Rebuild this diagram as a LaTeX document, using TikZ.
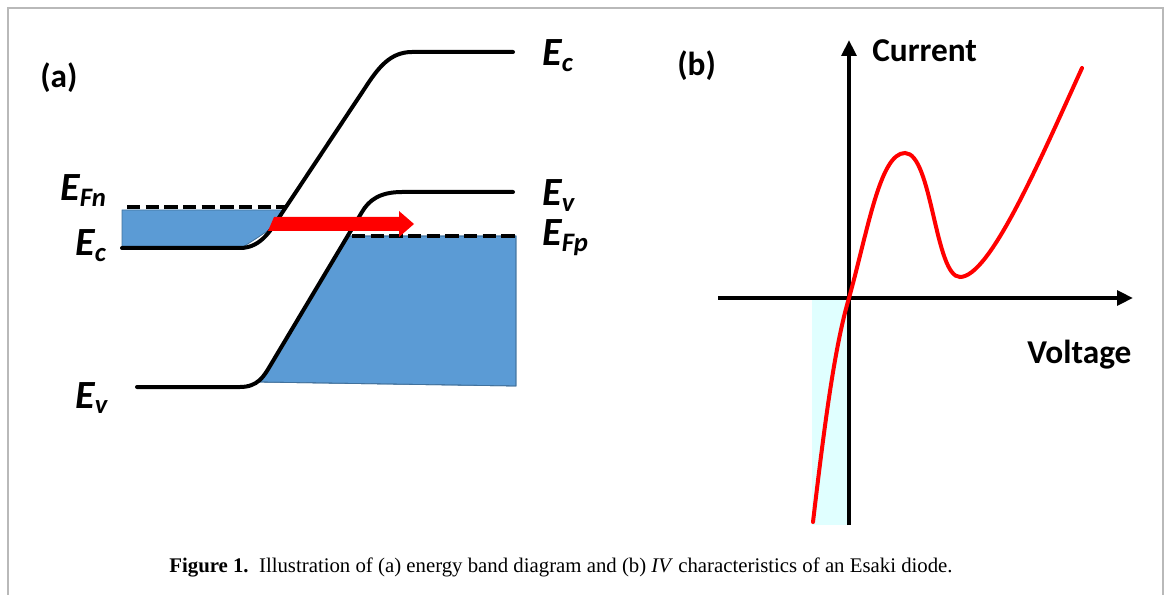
\documentclass[tikz,border=0pt]{standalone}
\usepackage{fontspec}
\setmainfont{Liberation Serif}
\newfontfamily\lblfont{Carlito}
\usetikzlibrary{arrows.meta, positioning}
\definecolor{fillblue}{HTML}{5B9BD5}
\definecolor{edgeblue}{HTML}{41719C}
\definecolor{paleCyan}{HTML}{E0FFFF}
\newcommand{\lvl}[2]{{\fontsize{30}{30}\selectfont E}\raisebox{-0.4em}{\fontsize{20}{20}\selectfont #2}}
\tikzset{
  band/.style  = {line width=3pt, draw=black, line cap=round},
  fermi/.style = {line width=3pt, draw=black, dash pattern=on 10pt off 4pt},
  fillr/.style = {fill=fillblue, draw=edgeblue, line width=0.6pt},
  lvl/.style   = {font=\lblfont\bfseries\itshape, anchor=base west, inner sep=0pt},
  panlab/.style= {font=\lblfont\bfseries\fontsize{25}{25}\selectfont, anchor=base west, inner sep=0pt},
  axlab/.style = {font=\lblfont\bfseries\fontsize{25}{25}\selectfont, anchor=base west, inner sep=0pt},
  axis/.style  = {line width=3.6pt, draw=black, -{Triangle[length=12pt, width=11pt]}},
  iv/.style    = {line width=3pt, draw=red, line cap=round},
}
\begin{document}
\begin{tikzpicture}[x=0.75pt, y=-0.75pt]
\useasboundingbox (0,0) rectangle (1170,595);
% --- frame ------------------------------------------------------------------
\draw[gray!55, line width=1.5pt] (8,595) -- (8,8) -- (1163,8) -- (1163,595);

% --- (a) band diagram -------------------------------------------------------
% filled states
\fill[fillr] (122,210) -- (283,210) -- (272,228) -- (257,238) -- (243,247) -- (122,247) -- cycle;
\fill[fillr] (348,236) -- (516,236) -- (516,386) -- (258,382) -- (270,366) -- cycle;
\draw[edgeblue, line width=0.6pt] (348,236) -- (516,236) -- (516,386) -- (258,382);
% Fermi levels
\draw[fermi] (127,207) -- (285,207);
\draw[fermi] (352,236) -- (516,236);
% conduction and valence bands
\draw[band] (122,248) -- (240,248) .. controls (262,248) and (272,228) .. (282,213)
  -- (365,88) .. controls (378,68) and (390,52) .. (412,52) -- (513,52);
\draw[band] (137,387) -- (240,387) .. controls (258,387) and (264,376) .. (270,366)
  -- (362,212) .. controls (369,200) and (380,192) .. (402,192) -- (513,192);
% tunnelling arrow
\fill[red] (274,217) -- (399,217) -- (399,211) -- (414,224) -- (399,237) -- (399,231)
  -- (268,231) -- cycle;

\node[panlab] (pa) at (40,88) {(a)};
\node[lvl] (ecr)  at (542,66)  {\lvl{E}{c}};
\node[lvl] (evr)  at (542,206) {\lvl{E}{v}};
\node[lvl] (efp)  at (542,246) {\lvl{E}{Fp}};
\node[lvl] (efn)  at (60,201)  {\lvl{E}{Fn}};
\node[lvl] (ecl)  at (75,256)  {\lvl{E}{c}};
\node[lvl] (evl)  at (75,408)  {\lvl{E}{v}};

% --- (b) IV characteristic --------------------------------------------------
\fill[paleCyan] (812,300) rectangle (849,525);
\coordinate (o)  at (849,298);
\coordinate (yb) at (849,525);
\coordinate (yt) at (849,40);
\coordinate (xl) at (718,298);
\coordinate (xr) at (1133,298);
\draw[axis] (yb) -- (yt);
\draw[axis] (xl) -- (xr);
\draw[iv] (813,522) .. controls (825,420) and (835,345) .. (o)
  .. controls (868,230) and (880,153) .. (905,153)
  .. controls (932,153) and (935,277) .. (960,277)
  .. controls (990,277) and (1040,160) .. (1082,68);

\node[panlab] (pb)  at (677,76)   {(b)};
\node[axlab]  (cur) at (872,62)   {Current};
\node[axlab]  (vol) at (1027,363) {Voltage};

% --- caption ----------------------------------------------------------------
\node[font=\fontsize{15.6}{15.6}\selectfont, inner sep=0pt] (cap) at (561,567)
  {\textbf{Figure 1.}\ \ Illustration of (a) energy band diagram and (b) \textit{IV} characteristics of an Esaki diode.};
\end{tikzpicture}
\end{document}
